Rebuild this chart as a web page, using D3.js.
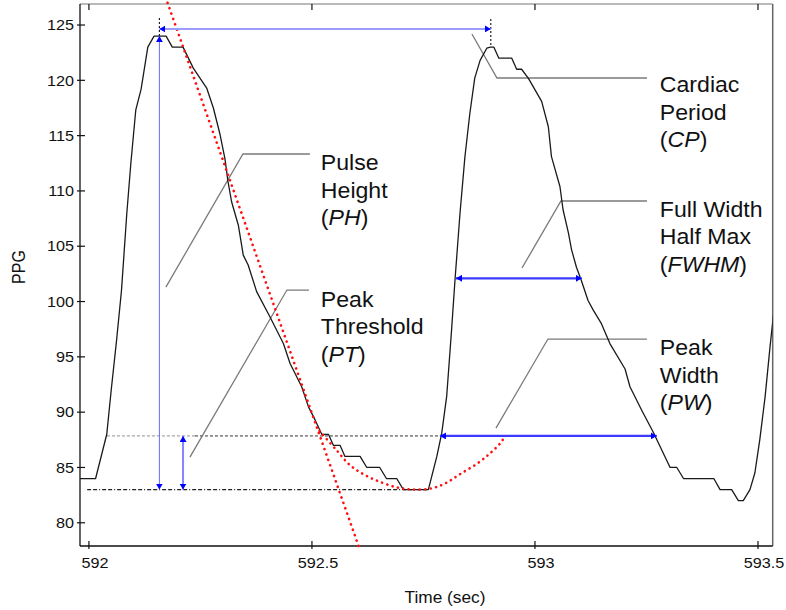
<!DOCTYPE html>
<html><head><meta charset="utf-8">
<script src="https://cdn.jsdelivr.net/npm/d3@7"></script>
<style>body{margin:0;background:#fff}svg{display:block}text{font-family:"Liberation Sans",Arial,sans-serif}</style>
</head><body><svg id="c" width="786" height="610"></svg>
<script>
// ---- data ----
const time = [591.980,592.015,592.040,592.050,592.062,592.073,592.085,592.094,592.105,592.117,
592.132,592.146,592.173,592.187,592.211,592.234,592.264,592.279,592.294,592.305,
592.312,592.320,592.335,592.346,592.357,592.376,592.406,592.436,592.451,592.477,
592.492,592.507,592.522,592.537,592.548,592.563,592.574,592.608,592.623,592.652,
592.667,592.690,592.705,592.761,592.780,592.791,592.802,592.813,592.821,592.832,
592.843,592.854,592.865,592.877,592.892,592.900,592.908,592.919,592.948,592.959,
592.970,592.985,593.015,593.030,593.037,593.056,593.063,593.075,593.082,593.093,
593.104,593.119,593.131,593.149,593.168,593.202,593.213,593.239,593.265,593.284,
593.303,593.318,593.333,593.401,593.415,593.441,593.456,593.467,593.482,593.493,
593.504,593.516,593.527,593.536];
const ppg = [84,84,88,92,96.5,101,108,112.5,117.3,119.2,
123,124,124,123,123,121.1,119.3,117.5,115.1,112.9,
110.8,109,106.9,104.2,103.3,100.9,98.6,96.2,94.4,92.3,
90.5,89.3,88,88,87,87,86,86,85,85,
84,84,83,83,86,88.1,91.4,97.4,102.1,108,
113.1,117,120.2,121.8,122.9,123,123,122,122,121,
121,120.2,118.1,115.8,113.1,110.4,108.3,106.2,104.7,103.1,
101.9,100.1,99.2,98,96.2,93.9,92.3,90.2,88.2,86.6,
85,85,84,84,83,83,82,82,83,84.5,
87.5,91.4,95.9,99.3];
const xTicks = [592, 592.5, 593, 593.5];
const xTickLabels = ["592", "592.5", "593", "593.5"];
const yTicks = [80, 85, 90, 95, 100, 105, 110, 115, 120, 125];

// fitted trough curve (red dotted)
const fitTime = [592.517,592.555,592.585,592.619,592.652,592.690,592.722,592.765,592.798,592.832,592.869,592.899,592.922,592.933];
const fitPPG  = [88.3,86.57,85.22,84.31,83.71,83.2,83.02,83.09,83.54,84.4,85.31,86.27,87.18,87.84];
// tangent line (red dotted)
const tangentTime = [592.172, 592.608];
const tangentPPG  = [127.5, 77.5];

// feature levels / times
const peakTimes = [592.158, 592.901];
const peakValues = [124, 123.2];
const peakMarkTop = [125.8, 125.6];
const baseline = 83;
const threshold = 87.85;
const halfMax = 102.1;
const cpLevel = 124.64;
const ptArrowTime = 592.211;
const thresholdTimes = [592.0404, 592.2377, 592.787];
const baselineTimes = [591.996, 592.760];
const fwhmTimes = [592.823, 593.105];
const pwTimes = [592.787, 593.273];

// annotation labels
const labelNames = [["Pulse","Height"],["Peak","Threshold"],["Cardiac","Period"],["Full Width","Half Max"],["Peak","Width"]];
const labelAbbr = ["PH","PT","CP","FWHM","PW"];
const labelTime = [592.520, 592.520, 593.280, 593.280, 593.280];
const labelPPG  = [111.89, 99.53, 118.94, 107.67, 95.16];
const leaderTime = [[592.1726,592.3453,592.4955],[592.2265,592.4439,592.4933],[592.8587,592.9148,593.2511],[592.9709,593.0583,593.2511],[592.9126,593.0291,593.2511]];
const leaderPPG  = [[101.31,113.34,113.34],[85.94,101.04,101.04],[124.19,120.21,120.21],[103.03,109.09,109.09],[88.56,96.61,96.61]];

// ---- drawing ----
const svg = d3.select("#c");
const L = 80, R = 772.7, T = 4, B = 546;
const x = d3.scaleLinear().domain([591.98, 593.533]).range([L, R]);
const y = d3.scaleLinear().domain([77.9, 126.9]).range([B, T]);
const SX = 1.08;

const defs = svg.append("defs");
defs.append("clipPath").attr("id","plot").append("rect").attr("x",L).attr("y",T).attr("width",R-L).attr("height",B-T);
defs.append("marker").attr("id","ah").attr("viewBox","0 0 6 7").attr("refX",6).attr("refY",3.5)
  .attr("markerWidth",6).attr("markerHeight",7).attr("markerUnits","userSpaceOnUse").attr("orient","auto-start-reverse")
  .append("path").attr("d","M0,0L6,3.5L0,7Z").attr("fill","#0000ff");

function txt(g, s, px, py, size, anchor, sx){
  return g.append("text").attr("transform",`translate(${px},${py}) scale(${sx||SX},1)`)
    .attr("font-size",size).attr("text-anchor",anchor||"start").attr("fill","#111").text(s);
}
function seg(t1,v1,t2,v2,stroke,w,dash){
  return svg.append("line").attr("x1",x(t1)).attr("y1",y(v1)).attr("x2",x(t2)).attr("y2",y(v2))
    .attr("stroke",stroke).attr("stroke-width",w).attr("stroke-dasharray",dash||null);
}
function arrow(t1,v1,t2,v2,stroke,w){
  return seg(t1,v1,t2,v2,stroke,w).attr("marker-start","url(#ah)").attr("marker-end","url(#ah)");
}

// frame
svg.append("line").attr("x1",L).attr("x2",R).attr("y1",T).attr("y2",T).attr("stroke","#777").attr("stroke-width",1.2);
svg.append("line").attr("x1",R).attr("x2",R).attr("y1",T).attr("y2",B).attr("stroke","#666").attr("stroke-width",1.5);
svg.append("line").attr("x1",L).attr("x2",L).attr("y1",T).attr("y2",B).attr("stroke","#111").attr("stroke-width",1.3);
svg.append("line").attr("x1",L).attr("x2",R).attr("y1",B).attr("y2",B).attr("stroke","#111").attr("stroke-width",1.3);

// ticks
const ax = svg.append("g");
yTicks.forEach(v=>{
  ax.append("line").attr("x1",L-3).attr("x2",L+5).attr("y1",y(v)).attr("y2",y(v)).attr("stroke","#111").attr("stroke-width",1.2);
  txt(ax, String(v), L-6, y(v)+5.2, 15, "end");
});
xTicks.forEach((t,i)=>{
  if (x(t) < R-5) {
    ax.append("line").attr("x1",x(t)).attr("x2",x(t)).attr("y1",B-5).attr("y2",B+3).attr("stroke","#111").attr("stroke-width",1.2);
    ax.append("line").attr("x1",x(t)).attr("x2",x(t)).attr("y1",T).attr("y2",T+6).attr("stroke","#111").attr("stroke-width",1.2);
  }
  txt(ax, xTickLabels[i], x(t)+6, 568, 15, "middle");
});
txt(svg, "Time (sec)", 445, 603, 16, "middle");
svg.append("text").attr("transform","translate(25,267) rotate(-90) scale(1,1.09)").attr("font-size",16)
  .attr("text-anchor","middle").attr("fill","#111").text("PPG");

// reference lines
seg(thresholdTimes[0], threshold, thresholdTimes[1], threshold, "#a8a8a8", 1.2, "3,2");
seg(thresholdTimes[1], threshold, thresholdTimes[2], threshold, "#333", 1, "3,2");
seg(baselineTimes[0], baseline, baselineTimes[1], baseline, "#222", 1.1, "4,2,4,2,1,2");
peakTimes.forEach((t,i)=> seg(t, peakValues[i], t, peakMarkTop[i], "#111", 1.1, "2,2"));

// leader lines
const lineGen = d3.line().x(d=>x(d[0])).y(d=>y(d[1]));
leaderTime.forEach((ts,i)=>{
  svg.append("path").attr("d", lineGen(ts.map((t,j)=>[t, leaderPPG[i][j]])))
    .attr("fill","none").attr("stroke","#7a7a7a").attr("stroke-width",1.3);
});

// waveform
svg.append("path").attr("clip-path","url(#plot)")
  .attr("d", lineGen(time.map((t,i)=>[t, ppg[i]])))
  .attr("fill","none").attr("stroke","#1a1a1a").attr("stroke-width",1.3).attr("stroke-linejoin","round");

// red dotted fit & tangent
svg.append("path").attr("d", d3.line().x(d=>x(d[0])).y(d=>y(d[1])).curve(d3.curveCatmullRom)(fitTime.map((t,i)=>[t, fitPPG[i]])))
  .attr("fill","none").attr("stroke","#ff1010").attr("stroke-width",2.6).attr("stroke-linecap","round").attr("stroke-dasharray","0.1,5.4");
svg.append("path").attr("d", lineGen(tangentTime.map((t,i)=>[t, tangentPPG[i]])))
  .attr("fill","none").attr("stroke","#ff1010").attr("stroke-width",2.6).attr("stroke-linecap","round").attr("stroke-dasharray","0.1,5.6");

// arrows
arrow(peakTimes[0], peakValues[0], peakTimes[0], baseline, "#6b6bff", 1);
arrow(peakTimes[0], cpLevel, peakTimes[1], cpLevel, "#9c9cff", 2);
arrow(ptArrowTime, threshold, ptArrowTime, baseline, "#8585ff", 2);
arrow(fwhmTimes[0], halfMax, fwhmTimes[1], halfMax, "#3a3aff", 2.2);
arrow(pwTimes[0], threshold, pwTimes[1], threshold, "#3a3aff", 2.2);

// labels
const LH = 27.7;
labelNames.forEach((lines,i)=>{
  const px = x(labelTime[i]), py = y(labelPPG[i]);
  lines.forEach((s,j)=> txt(svg, s, px, py + j*LH, 21.2, "start", 1.09));
  const t = svg.append("text").attr("transform",`translate(${px},${py + 2*LH}) scale(1.09,1)`)
    .attr("font-size",21.2).attr("fill","#111");
  t.append("tspan").text("(");
  t.append("tspan").attr("font-style","italic").text(labelAbbr[i]);
  t.append("tspan").text(")");
});
</script></body></html>
